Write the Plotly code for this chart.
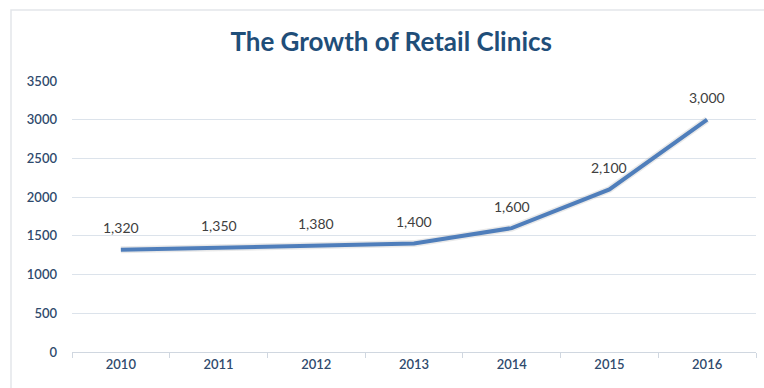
import plotly.graph_objects as go

years = ["2010", "2011", "2012", "2013", "2014", "2015", "2016"]
clinics = [1320, 1350, 1380, 1400, 1600, 2100, 3000]
labels = ["1,320", "1,350", "1,380", "1,400", "1,600", "2,100", "3,000"]
y_ticks = [0, 500, 1000, 1500, 2000, 2500, 3000, 3500]

FONT = "Lato, Carlito, sans-serif"

fig = go.Figure()
# soft shadow under the line
fig.add_trace(go.Scatter(x=years, y=clinics, mode="lines",
                         line=dict(color="rgba(120,120,120,0.16)", width=7),
                         hoverinfo="skip", showlegend=False))
fig.add_trace(go.Scatter(x=years, y=clinics, mode="lines",
                         line=dict(color="#4F7EBB", width=4),
                         showlegend=False))

for i, (y, t) in enumerate(zip(clinics, labels)):
    fig.add_annotation(x=i, y=y, text=t, showarrow=False, yshift=22,
                       font=dict(family=FONT, size=14, color="#404040"))

tickfont = dict(family=FONT, size=13, color="#2F4A6D", weight=600)

fig.update_layout(
    width=764, height=388,
    margin=dict(l=72, r=8, t=81, b=36),
    paper_bgcolor="white", plot_bgcolor="white",
    title=dict(text="<b>The Growth of Retail Clinics</b>", x=0.512, xanchor="center",
               y=0.893, yanchor="middle",
               font=dict(family=FONT, size=26, color="#1F4E79")),
    xaxis=dict(type="category", categoryorder="array", categoryarray=years,
               range=[-0.5, len(years) - 0.5], autorange=False,
               showgrid=False, showline=True, linecolor="#D0D7E0",
               linewidth=1, ticks="outside", tickson="boundaries", ticklen=5,
               tickcolor="#D0D7E0", tickangle=0, tickfont=tickfont),
    yaxis=dict(range=[0, 3500], autorange=False, tickvals=y_ticks, showgrid=True,
               gridcolor="#DCE3EB",
               zeroline=False, showline=False, ticks="", ticklabelstandoff=14,
               tickfont=tickfont),
    shapes=[dict(type="rect", xref="paper", yref="paper",
                 x0=(11 - 72) / 684, x1=1.1, y0=-0.3, y1=(352 - 10) / 271,
                 line=dict(color="#E3E6EA", width=1.5), layer="below")],
)

fig.write_html("out.html")
